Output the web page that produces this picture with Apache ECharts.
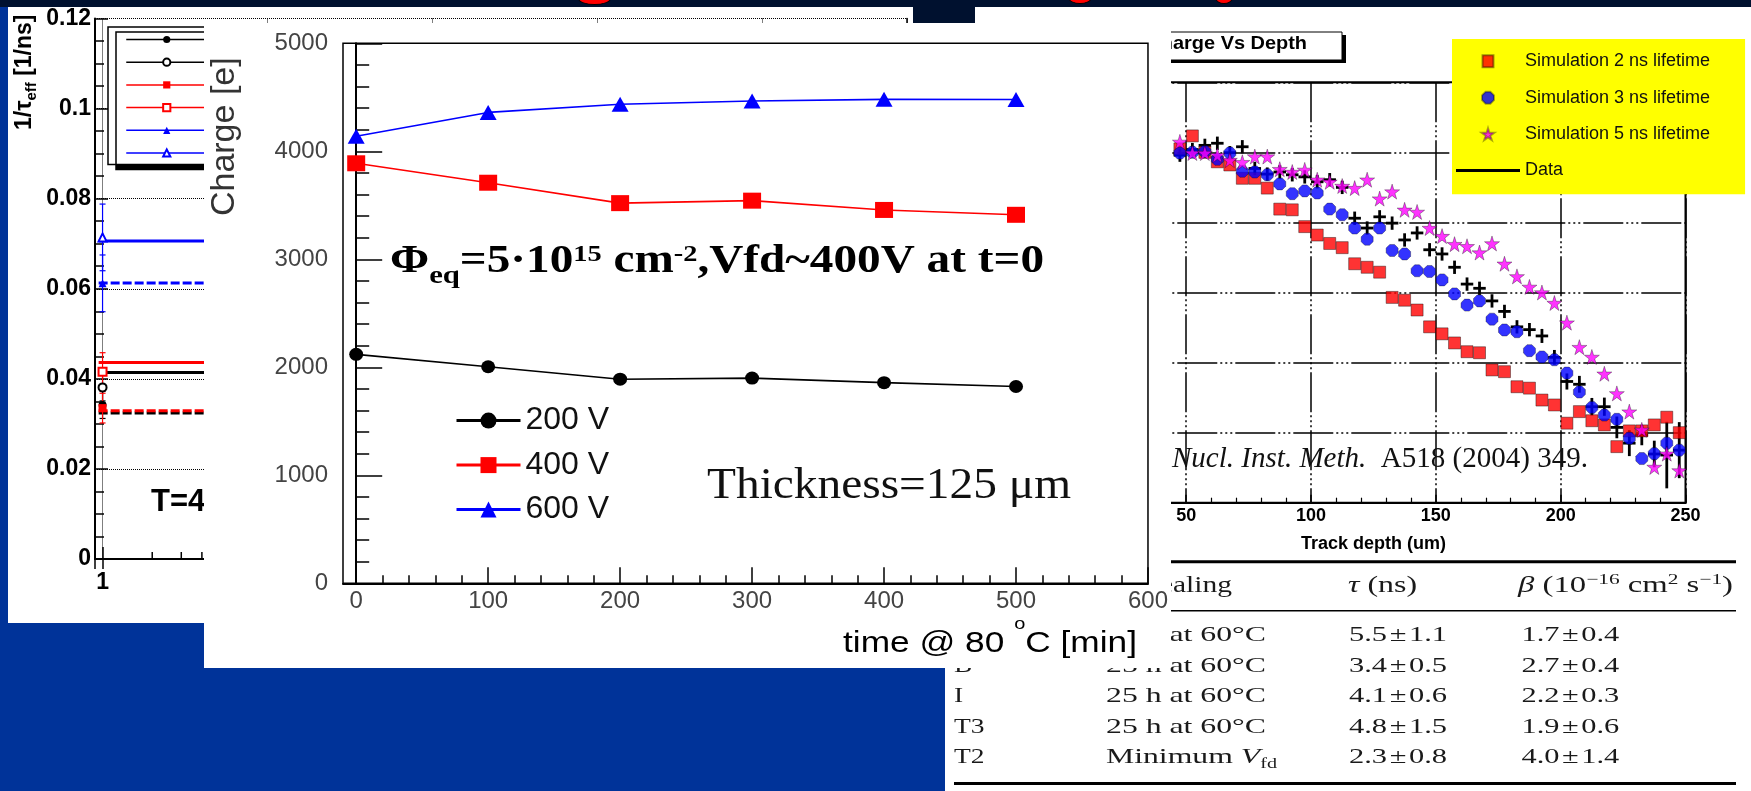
<!DOCTYPE html>
<html><head><meta charset="utf-8"><title>Charge vs annealing time</title>
<script src="https://cdn.jsdelivr.net/npm/echarts@6/dist/echarts.min.js"></script>
<style>
html,body{margin:0;padding:0}
body{width:1751px;height:791px;background:#003399;position:relative;overflow:hidden;font-family:'Liberation Sans',sans-serif}
.abs{position:absolute}
.frag{position:absolute;background:#ff0000;border:1px solid #000;border-radius:50%}
</style></head><body>
<div class="abs" style="left:0;top:0;width:1751px;height:7px;background:#00112f"></div>
<div class="frag" style="left:578px;top:-8px;width:31px;height:11px"></div>
<div class="frag" style="left:1068px;top:-9px;width:22px;height:11px"></div>
<div class="frag" style="left:1215px;top:-9px;width:16px;height:11px"></div>
<div id="left" class="abs" style="left:8px;top:7px;width:905px;height:616px;background:#fff"></div>
<div id="right" class="abs" style="left:945px;top:7px;width:806px;height:784px;background:#fff"></div>
<div class="abs" style="left:913px;top:0;width:62px;height:23px;background:#00112f"></div>
<div id="center" class="abs" style="left:204px;top:23px;width:967px;height:645px;background:#fff;z-index:3"></div>
<script>
// ================= DATA =================
// Central chart: charge vs annealing time at 80 C
const timeMin = [0, 100, 200, 300, 400, 500];
const charge200V = [2120, 2005, 1890, 1900, 1858, 1822];
const charge400V = [3889, 3709, 3520, 3543, 3457, 3412];
const charge600V = [4140, 4360, 4435, 4466, 4481, 4480];
const voltageNames = ['200 V', '400 V', '600 V'];
const timeMajorTicks = [0, 100, 200, 300, 400, 500, 600];
const timeMinorTicks = [20, 40, 60, 80, 120, 140, 160, 180, 220, 240, 260, 280, 320, 340, 360, 380, 420, 440, 460, 480, 520, 540, 560, 580];

// Left chart: 1/tau_eff vs time (log)
const tauNames = ['e, sample 1', 'h, sample 1', 'e, sample 2', 'h, sample 2', 'e, sample 3', 'h, sample 3'];
const tauPointTime = [1, 1, 1, 1, 1, 1];
const tauPoint = [0.0342, 0.0381, 0.0335, 0.0416, 0.0612, 0.0714];
const tauErr = [0.0030, 0.0030, 0.0033, 0.0042, 0.0063, 0.0074];
const tauFit = [0.0324, 0.0414, 0.0329, 0.0436, 0.0613, 0.0706];
const tauFitRange = [0.947, 60000];
const logMinorTicks = [2, 3, 4, 5, 6, 7, 8, 9, 20, 30, 40, 50, 60, 70, 80, 90, 200, 300, 400, 500, 600, 700, 800, 900,
  2000, 3000, 4000, 5000, 6000, 7000, 8000, 9000, 20000, 30000, 40000, 50000, 60000, 70000];

// Right chart: charge vs track depth
const depthUm = [47.5, 52.5, 57.5, 62.5, 67.5, 72.5, 77.5, 82.5, 87.5, 92.5, 97.5, 102.5, 107.5, 112.5, 117.5, 122.5,
  127.5, 132.5, 137.5, 142.5, 147.5, 152.5, 157.5, 162.5, 167.5, 172.5, 177.5, 182.5, 187.5, 192.5, 197.5, 202.5,
  207.5, 212.5, 217.5, 222.5, 227.5, 232.5, 237.5, 242.5, 247.5];
const sim2ns = [10100, 10470, 10000, 9730, 9640, 9260, 9260, 8980, 8380, 8360, 7880, 7640, 7400, 7280, 6820, 6720,
  6580, 5860, 5780, 5500, 5020, 4820, 4560, 4310, 4280, 3790, 3740, 3310, 3270, 2930, 2790, 2270,
  2600, 2340, 2220, 1600, 2050, 2050, 2220, 2440, 2000];
const sim3ns = [9980, 10000, 10020, 9800, 9980, 9460, 9440, 9360, 9100, 8820, 8900, 8840, 8380, 8220, 7840, 7520,
  7840, 7200, 7100, 6620, 6600, 6360, 5960, 5640, 5760, 5240, 4930, 4880, 4340, 4160, 4080, 3700,
  3160, 2720, 2500, 2380, 1840, 1260, 1400, 1700, 1500];
const sim5ns = [10300, 9980, 9980, 9920, 9780, 9720, 9880, 9880, 9520, 9440, 9500, 9220, 9160, 9040, 8980, 9220,
  8680, 8880, 8360, 8300, 7840, 7610, 7380, 7320, 7140, 7400, 6820, 6460, 6160, 6000, 5700, 5140,
  4440, 4160, 3680, 3120, 2600, 2080, 1020, 1400, 920];
const dataCharge = [9920, 10080, 10200, 10260, 9990, 10160, 9540, 9380, 9440, 9360, 9300, 9160, 9220, 9000, 8120, 7840,
  8160, 7980, 7500, 7700, 7220, 7100, 6720, 6240, 6120, 5760, 5460, 5020, 4940, 4760, 4150, 3460,
  3380, 2740, 2740, 2150, 1700, 1930, 1390, 1360, 1500];
const dataErr = [190, 190, 190, 190, 190, 190, 190, 190, 190, 190, 190, 190, 190, 190, 190, 190,
  190, 190, 190, 190, 190, 190, 190, 190, 190, 190, 190, 190, 190, 200, 210, 230,
  240, 250, 260, 310, 370, 290, 380, 950, 800];
const depthHalfBin = 2.5;
const depthNames = ['Simulation 2 ns lifetime', 'Simulation 3 ns lifetime', 'Simulation 5 ns lifetime', 'Data'];

// Table
const tableSamples = ['A', 'B', 'I', 'T3', 'T2'];
const tableAnnealing = ['25 h at 60°C', '25 h at 60°C', '25 h at 60°C', '25 h at 60°C', 'Minimum Vfd'];
const tableTau = ['5.5±1.1', '3.4±0.5', '4.1±0.6', '4.8±1.5', '2.3±0.8'];
const tableBeta = ['1.7±0.4', '2.7±0.4', '2.2±0.3', '1.9±0.6', '4.0±1.4'];

// ================= HELPERS =================
const SANS = "'Liberation Sans'";
const SERIF = "'Liberation Serif'";
const mctx = document.createElement('canvas').getContext('2d');
function fontStr(p) { return (p.style || 'normal') + ' ' + (p.weight || 'normal') + ' ' + p.size + 'px ' + (p.family || SANS); }
function measure(t, p) { mctx.font = fontStr(p); return mctx.measureText(t).width; }
function textRun(pieces, opt) {
  let cx = 0; const kids = [];
  const z = opt.z || 100;
  pieces.forEach(function (p) {
    const f = fontStr(p);
    const w = measure(p.t, p);
    const fill = p.fill || opt.fill || '#000';
    kids.push({ type: 'text', z: z, x: cx, y: (p.dy || 0) - 0.34 * p.size,
      style: { text: p.t, font: f, fill: fill, textFill: fill, textAlign: 'left', align: 'left', textVerticalAlign: 'middle', verticalAlign: 'middle' } });
    cx += w;
  });
  const s = opt.width ? opt.width / cx : (opt.scale || 1);
  const shift = opt.anchor === 'right' ? -cx : (opt.anchor === 'center' ? -cx / 2 : 0);
  kids.forEach(function (k) { k.x += shift; });
  return { type: 'group', x: opt.x, y: opt.y, scaleX: s, rotation: opt.rotation || 0, z: z, children: kids };
}

// ================= LEFT CHART =================
const tauColors = ['#000000', '#000000', '#ff0000', '#ff0000', '#0000ff', '#0000ff'];
const tauSymbols = ['circle', 'emptyCircle', 'rect', 'emptyRect', 'triangle', 'emptyTriangle'];
const tauDashed = [true, false, true, false, true, false];
const leftChart = echarts.init(document.getElementById('left'));
const leftSeries = [];
tauFit.forEach(function (v, i) {
  leftSeries.push({ type: 'line', name: 'fit ' + tauNames[i], data: [[tauFitRange[0], v], [tauFitRange[1], v]],
    symbol: 'none', silent: true, z: 2,
    lineStyle: { color: tauColors[i], width: 3, type: tauDashed[i] ? [9, 3] : 'solid' } });
});
leftSeries.push({ type: 'custom', name: 'errors', z: 3, silent: true,
  data: tauPoint.map(function (v, i) { return [tauPointTime[i], v - tauErr[i], v + tauErr[i], i]; }),
  encode: { x: 0, y: [1, 2] },
  renderItem: function (params, api) {
    const x = api.value(0), c = tauColors[api.value(3)];
    const a = api.coord([x, api.value(1)]), b = api.coord([x, api.value(2)]);
    const st = { stroke: c, lineWidth: 1.2 };
    return { type: 'group', children: [
      { type: 'line', shape: { x1: a[0], y1: a[1], x2: b[0], y2: b[1] }, style: st },
      { type: 'line', shape: { x1: a[0] - 3, y1: a[1], x2: a[0] + 3, y2: a[1] }, style: st },
      { type: 'line', shape: { x1: b[0] - 3, y1: b[1], x2: b[0] + 3, y2: b[1] }, style: st }
    ] };
  } });
tauPoint.forEach(function (v, i) {
  leftSeries.push({ type: 'line', name: tauNames[i], data: [[tauPointTime[i], v]], z: 4,
    symbol: tauSymbols[i], symbolSize: 8, showSymbol: true,
    itemStyle: { color: tauColors[i] }, lineStyle: { color: tauColors[i], width: 1.5 } });
});
leftSeries.push({ type: 'custom', name: 'minor ticks', silent: true, z: 5,
  data: logMinorTicks.map(function (v) { return [v, 0]; }),
  renderItem: function (params, api) {
    const p = api.coord([api.value(0), api.value(1)]);
    return { type: 'line', shape: { x1: p[0], y1: p[1], x2: p[0], y2: p[1] - 7 }, style: { stroke: '#000', lineWidth: 1.5 } };
  } });
function isDecade(v) { const l = Math.log10(v); return Math.abs(l - Math.round(l)) < 1e-6; }
leftChart.setOption({
  animation: false,
  textStyle: { fontFamily: SANS },
  grid: { left: 87, top: 11, width: 812, height: 541 },
  legend: { data: tauNames, left: 100, top: 20, orient: 'vertical', selectedMode: false,
    padding: [8, 40, 7, 17.5], itemWidth: 81, itemHeight: 9, itemGap: 13.6,
    backgroundColor: '#fff', borderColor: '#000', borderWidth: 1.5,
    shadowColor: '#000', shadowBlur: 0, shadowOffsetX: 8, shadowOffsetY: 5,
    lineStyle: { width: 1.5, type: 'solid' },
    textStyle: { fontSize: 9, lineHeight: 9, color: '#000' } },
  xAxis: [{ type: 'log', logBase: 10, min: 0.9, max: 75000, position: 'bottom',
    axisLine: { show: true, lineStyle: { color: '#000', width: 2 } },
    axisTick: { show: true, inside: true, length: 12, lineStyle: { color: '#000', width: 1.5 } },
    axisLabel: { formatter: function (v) { return isDecade(v) ? String(Math.round(v)) : ''; },
      fontWeight: 'bold', fontSize: 23, color: '#000', margin: 12 },
    splitLine: { show: true, lineStyle: { type: 'dotted', color: '#000', width: 1 } } },
  { type: 'log', logBase: 10, min: 0.9, max: 75000, position: 'top',
    axisLine: { show: false }, axisTick: { show: true, inside: true, length: 10, lineStyle: { color: '#000', width: 1.5 } },
    axisLabel: { show: false }, splitLine: { show: false } }],
  yAxis: [{ type: 'value', min: 0, max: 0.12, interval: 0.02,
    axisLine: { show: true, lineStyle: { color: '#000', width: 2 } },
    axisTick: { inside: true, length: 13, lineStyle: { color: '#000', width: 1.5 } },
    minorTick: { show: true, splitNumber: 4, length: 9, lineStyle: { color: '#000', width: 1.5 } },
    axisLabel: { fontWeight: 'bold', fontSize: 23, color: '#000', margin: 4 },
    splitLine: { show: true, lineStyle: { type: 'dotted', color: '#000', width: 1 } } },
  { type: 'value', min: 0, max: 0.12, position: 'right',
    axisLine: { show: true, lineStyle: { color: '#000', width: 1.5 } },
    axisTick: { show: false }, axisLabel: { show: false }, splitLine: { show: false } }],
  series: leftSeries,
  graphic: [
    textRun([{ t: '1/τ', size: 23, weight: 'bold' }, { t: 'eff', size: 15, weight: 'bold', dy: 4 }, { t: ' [1/ns]', size: 23, weight: 'bold' }],
      { x: 24.5, y: 123, rotation: Math.PI / 2 }),
    textRun([{ t: 'T=4', size: 31, weight: 'bold' }], { x: 143, y: 506 })
  ]
});

// ================= RIGHT CHART =================
const octagon = 'path://M3,0 L7,0 L10,3 L10,7 L7,10 L3,10 L0,7 L0,3 Z';
const star = 'path://M50,0 L61,35 L98,35 L68,57 L79,91 L50,70 L21,91 L32,57 L2,35 L39,35 Z';
const square = 'path://M0,0 L10,0 L10,11 L0,11 Z';
const dashGrid = [40, 3, 2, 3, 2, 3, 2, 3];
const rightChart = echarts.init(document.getElementById('right'));
const rowY = [636, 666.5, 697, 727.5, 758];
const tableGraphic = [];
const tFill = '#1a1a1a';
tableGraphic.push({ type: 'rect', shape: { x: 9, y: 553.2, width: 782, height: 3 }, style: { fill: '#000' }, z: 90 });
tableGraphic.push({ type: 'rect', shape: { x: 9, y: 603, width: 782, height: 1.5 }, style: { fill: '#000' }, z: 90 });
tableGraphic.push({ type: 'rect', shape: { x: 9, y: 775, width: 782, height: 3 }, style: { fill: '#000' }, z: 90 });
const hdr = { size: 23, family: SERIF };
tableGraphic.push(textRun([Object.assign({ t: 'Annealing' }, hdr)],
  { x: 287, y: 587, anchor: 'right', scale: 59 / measure('aling', hdr), fill: tFill }));
tableGraphic.push(textRun([Object.assign({ t: 'τ', style: 'italic' }, hdr), Object.assign({ t: ' (ns)' }, hdr)],
  { x: 403, y: 587, width: 69, fill: tFill }));
tableGraphic.push(textRun([
  Object.assign({ t: 'β', style: 'italic' }, hdr), Object.assign({ t: ' (10' }, hdr),
  { t: '−16', size: 15, family: SERIF, dy: -9 }, Object.assign({ t: ' cm' }, hdr),
  { t: '2', size: 15, family: SERIF, dy: -9 }, Object.assign({ t: ' s' }, hdr),
  { t: '−1', size: 15, family: SERIF, dy: -9 }, Object.assign({ t: ')' }, hdr)],
  { x: 573, y: 587, width: 215, fill: tFill }));
tableSamples.forEach(function (s, i) {
  const body = { size: 22, family: SERIF };
  tableGraphic.push(textRun([Object.assign({ t: s }, body)], { x: 9, y: rowY[i], scale: 1.25, fill: tFill }));
  if (tableAnnealing[i] === 'Minimum Vfd') {
    tableGraphic.push(textRun([Object.assign({ t: 'Minimum ' }, body), { t: 'V', size: 22, family: SERIF, style: 'italic' },
      { t: 'fd', size: 14, family: SERIF, dy: 4 }], { x: 161, y: rowY[i], width: 171, fill: tFill }));
  } else {
    tableGraphic.push(textRun([Object.assign({ t: tableAnnealing[i] }, body)], { x: 161, y: rowY[i], width: 160, fill: tFill }));
  }
  tableGraphic.push(textRun([Object.assign({ t: tableTau[i].replace('±', '\u200A±\u200A') }, body)], { x: 404, y: rowY[i], width: 98, fill: tFill }));
  tableGraphic.push(textRun([Object.assign({ t: tableBeta[i].replace('±', '\u200A±\u200A') }, body)], { x: 576.5, y: rowY[i], width: 97.7, fill: tFill }));
});
const titleP = { size: 19, weight: 'bold' };
rightChart.setOption({
  animation: false,
  textStyle: { fontFamily: SANS },
  grid: { left: 116.3, top: 75.3, width: 624.2, height: 420.4, show: true, borderColor: '#000', borderWidth: 2 },
  legend: { data: [
      { name: depthNames[0], icon: square },
      { name: depthNames[1], icon: octagon },
      { name: depthNames[2], icon: star },
      { name: depthNames[3], icon: 'path://M0,0 L60,0 L60,3 L0,3 Z' }],
    left: 507, top: 32, orient: 'vertical', selectedMode: false,
    padding: [13.3, 35, 14.7, 4], itemWidth: 64, itemHeight: 12, itemGap: 18.4,
    backgroundColor: '#ffff00', borderWidth: 0,
    textStyle: { fontSize: 18, lineHeight: 12, color: '#111' } },
  xAxis: { type: 'value', min: 0, max: 250, interval: 50,
    name: 'Track depth (um)', nameLocation: 'middle', nameGap: 32,
    nameTextStyle: { fontWeight: 'bold', fontSize: 18, color: '#000' },
    axisLine: { show: true, lineStyle: { color: '#000', width: 2 } },
    axisTick: { inside: true, length: 8, lineStyle: { color: '#000', width: 1.5 } },
    minorTick: { show: true, splitNumber: 5, length: 5, lineStyle: { color: '#000', width: 1.2 } },
    axisLabel: { fontWeight: 'bold', fontSize: 18, color: '#000', margin: 4 },
    splitLine: { show: true, lineStyle: { color: '#000', width: 1.5, type: dashGrid } } },
  yAxis: { type: 'value', min: 0, max: 12000, interval: 2000,
    axisLine: { show: true, lineStyle: { color: '#000', width: 2 } },
    axisTick: { inside: true, length: 8, lineStyle: { color: '#000' } },
    axisLabel: { formatter: function (v) { return String(v); }, fontWeight: 'bold', fontSize: 16, color: '#000' },
    splitLine: { show: true, lineStyle: { color: '#000', width: 1.5, type: dashGrid } } },
  series: [
    { type: 'scatter', name: depthNames[0], data: depthUm.map(function (d, i) { return [d, sim2ns[i]]; }),
      symbol: 'rect', symbolSize: 12, itemStyle: { color: '#ff0000', borderColor: 'rgba(0,0,0,0.5)', borderWidth: 1 } },
    { type: 'scatter', name: depthNames[1], data: depthUm.map(function (d, i) { return [d, sim3ns[i]]; }),
      symbol: octagon, symbolSize: 12, itemStyle: { color: '#0000ff', borderColor: 'rgba(0,0,0,0.4)', borderWidth: 1 } },
    { type: 'scatter', name: depthNames[2], data: depthUm.map(function (d, i) { return [d, sim5ns[i]]; }),
      symbol: star, symbolSize: 15, itemStyle: { color: '#ff00ff', borderColor: 'rgba(0,0,0,0.4)', borderWidth: 1 } },
    { type: 'custom', name: depthNames[3], itemStyle: { color: '#000' },
      data: depthUm.map(function (d, i) { return [d, dataCharge[i], dataErr[i], depthHalfBin]; }),
      encode: { x: 0, y: 1 },
      renderItem: function (params, api) {
        const x = api.value(0), y = api.value(1), e = api.value(2), hw = api.value(3);
        const c = api.coord([x, y]), t = api.coord([x, y + e]), b = api.coord([x, y - e]);
        const l = api.coord([x - hw, y]), r = api.coord([x + hw, y]);
        const st = { stroke: '#000', lineWidth: 2.8 };
        return { type: 'group', children: [
          { type: 'line', shape: { x1: c[0], y1: t[1], x2: c[0], y2: b[1] }, style: st },
          { type: 'line', shape: { x1: l[0], y1: c[1], x2: r[0], y2: c[1] }, style: st }] };
      } }
  ],
  graphic: [
    { type: 'rect', shape: { x: 159, y: 28, width: 242, height: 28 }, style: { fill: '#000' }, z: 90 },
    { type: 'rect', shape: { x: 155, y: 25, width: 242, height: 28 }, style: { fill: '#fff', stroke: '#000', lineWidth: 1 }, z: 91 },
    textRun([Object.assign({ t: 'Charge Vs Depth' }, titleP)],
      { x: 362, y: 43.5, anchor: 'right', scale: 134 / measure('arge Vs Depth', titleP), z: 95 }),
    textRun([{ t: 'Nucl. Inst. Meth.', size: 29, family: SERIF, style: 'italic' }, { t: '  A518 (2004) 349.', size: 29, family: SERIF }],
      { x: 227, y: 462, width: 416, fill: '#111' })
  ].concat(tableGraphic)
});

// ================= CENTRAL CHART =================
const centerChart = echarts.init(document.getElementById('center'));
centerChart.setOption({
  animation: false,
  textStyle: { fontFamily: SANS },
  grid: { left: 139, top: 20.3, width: 805, height: 540, show: true, borderColor: '#000', borderWidth: 1.5 },
  legend: { data: voltageNames, left: 251, top: 381.6, orient: 'vertical', selectedMode: false,
    padding: 0, itemWidth: 64, itemHeight: 20, itemGap: 12.5,
    lineStyle: { width: 3 },
    textStyle: { fontSize: 32, lineHeight: 20, color: '#111' } },
  xAxis: [{ type: 'value', min: -10, max: 600, position: 'bottom',
    axisLine: { show: true, lineStyle: { color: '#000', width: 2 } },
    axisTick: { show: true, inside: true, length: 16, customValues: timeMajorTicks, lineStyle: { color: '#000', width: 1.5 } },
    axisLabel: { customValues: timeMajorTicks, formatter: function (v) { return String(v); }, fontSize: 24, color: '#444', margin: 6 },
    splitLine: { show: false } },
  { type: 'value', min: -10, max: 600, position: 'bottom',
    axisLine: { show: false },
    axisTick: { show: true, inside: true, length: 8, customValues: timeMinorTicks, lineStyle: { color: '#000', width: 1.5 } },
    axisLabel: { show: false }, splitLine: { show: false } }],
  yAxis: { type: 'value', min: 0, max: 5000, interval: 1000,
    axisLine: { show: true, lineStyle: { color: '#000', width: 2 } },
    axisTick: { inside: true, length: 26, lineStyle: { color: '#000', width: 1.5 } },
    minorTick: { show: true, splitNumber: 5, length: 13, lineStyle: { color: '#000', width: 1.5 } },
    axisLabel: { formatter: function (v) { return String(v); }, fontSize: 24, color: '#444', margin: 15 },
    splitLine: { show: false } },
  series: [
    { type: 'line', name: voltageNames[0], data: timeMin.map(function (t, i) { return [t, charge200V[i]]; }),
      symbol: 'circle', symbolSize: [14, 13], lineStyle: { color: '#000', width: 1.6 }, itemStyle: { color: '#000' } },
    { type: 'line', name: voltageNames[1], data: timeMin.map(function (t, i) { return [t, charge400V[i]]; }),
      symbol: 'rect', symbolSize: [18, 16], lineStyle: { color: '#ff0000', width: 1.6 }, itemStyle: { color: '#ff0000' } },
    { type: 'line', name: voltageNames[2], data: timeMin.map(function (t, i) { return [t, charge600V[i]]; }),
      symbol: 'triangle', symbolSize: [17, 15], lineStyle: { color: '#0000ff', width: 1.6 }, itemStyle: { color: '#0000ff' } }
  ],
  graphic: [
    textRun([{ t: 'Charge [e]', size: 34, fill: '#333' }], { x: 32.4, y: 113.7, rotation: Math.PI / 2, anchor: 'center' }),
    textRun([
      { t: 'Φ', size: 40, weight: 'bold', family: SERIF },
      { t: 'eq', size: 26, weight: 'bold', family: SERIF, dy: 10 },
      { t: '=5·10', size: 40, weight: 'bold', family: SERIF },
      { t: '15', size: 24, weight: 'bold', family: SERIF, dy: -12 },
      { t: ' cm', size: 40, weight: 'bold', family: SERIF },
      { t: '-2', size: 24, weight: 'bold', family: SERIF, dy: -12 },
      { t: ',Vfd~400V at t=0', size: 40, weight: 'bold', family: SERIF }],
      { x: 186, y: 252, width: 654, fill: '#000' }),
    textRun([{ t: 'Thickness=125 μm', size: 45, family: SERIF }], { x: 503, y: 478.7, width: 364, fill: '#111' }),
    textRun([{ t: 'time @ 80 ', size: 30 }, { t: 'o', size: 17, dy: -24 }, { t: 'C [min]', size: 30 }],
      { x: 639, y: 631, width: 294, fill: '#000' })
  ]
});
</script>
</body></html>
